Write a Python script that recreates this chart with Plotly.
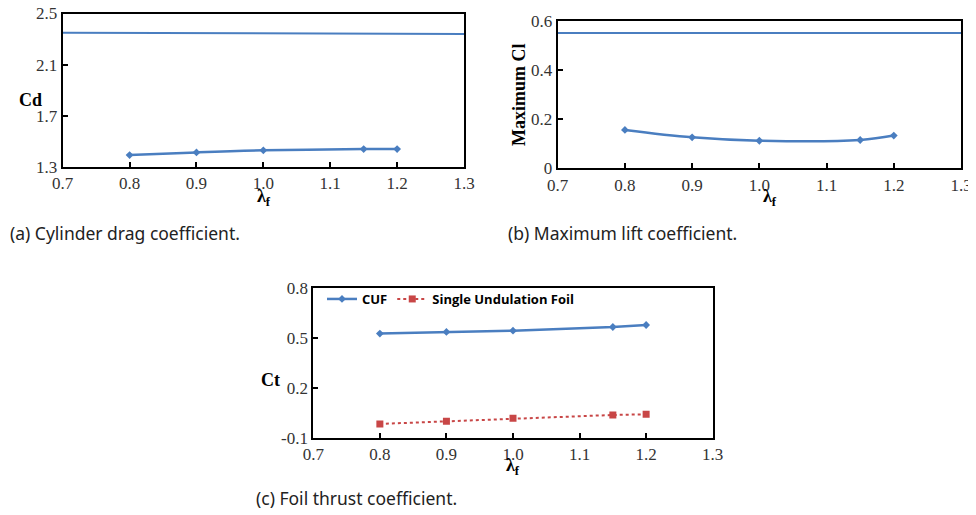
import plotly.graph_objects as go

# ---------------- data ----------------
lam = [0.8, 0.9, 1.0, 1.15, 1.2]
ref_x = [0.7, 1.3]

cd_ref = [2.35, 2.34]
cd_cuf = [1.391, 1.412, 1.428, 1.438, 1.438]

cl_ref = [0.55, 0.55]
cl_cuf = [0.156, 0.126, 0.112, 0.115, 0.133]

ct_cuf = [0.527, 0.537, 0.545, 0.567, 0.579]
ct_single = [-0.017, -0.001, 0.017, 0.037, 0.041]

x_ticks = [0.7, 0.8, 0.9, 1.0, 1.1, 1.2, 1.3]
x_ticklabels = ["0.7", "0.8", "0.9", "1.0", "1.1", "1.2", "1.3"]
cd_ticks = [1.3, 1.7, 2.1, 2.5]
cl_ticks = [0, 0.2, 0.4, 0.6]
cl_ticklabels = ["0", "0.2", "0.4", "0.6"]
ct_ticks = [-0.1, 0.2, 0.5, 0.8]

BLUE = "#4a7ec0"
RED = "#c84646"

# page has an 8px body margin: size the figure so it fits the window
OFF = 8
W, H = 976 - OFF, 515 - OFF


def px(x):
    return (x - OFF) / W


def py(y):
    return 1 - (y - OFF) / H


fig = go.Figure()

# panel (a)
fig.add_trace(go.Scatter(x=ref_x, y=cd_ref, mode="lines", line=dict(color=BLUE, width=2),
                         showlegend=False, xaxis="x", yaxis="y"))
fig.add_trace(go.Scatter(x=lam, y=cd_cuf, mode="lines+markers", line=dict(color=BLUE, width=2.5, shape="spline"),
                         marker=dict(symbol="diamond", size=6, color=BLUE),
                         showlegend=False, xaxis="x", yaxis="y"))
# panel (b)
fig.add_trace(go.Scatter(x=ref_x, y=cl_ref, mode="lines", line=dict(color=BLUE, width=2),
                         showlegend=False, xaxis="x2", yaxis="y2"))
fig.add_trace(go.Scatter(x=lam, y=cl_cuf, mode="lines+markers", line=dict(color=BLUE, width=2.5, shape="spline"),
                         marker=dict(symbol="diamond", size=6, color=BLUE),
                         showlegend=False, xaxis="x2", yaxis="y2"))
# panel (c)
fig.add_trace(go.Scatter(x=lam, y=ct_cuf, mode="lines+markers", name="<b>CUF</b>",
                         line=dict(color=BLUE, width=2.5),
                         marker=dict(symbol="diamond", size=6, color=BLUE),
                         xaxis="x3", yaxis="y3"))
fig.add_trace(go.Scatter(x=lam, y=ct_single, mode="lines+markers", name="<b>Single Undulation Foil</b>",
                         line=dict(color=RED, width=2, dash="dot"),
                         marker=dict(symbol="square", size=7, color=RED),
                         xaxis="x3", yaxis="y3"))

tickfont = dict(family="Liberation Serif, Times New Roman, serif", size=17, color="#333")
common_axis = dict(showline=True, linecolor="black", linewidth=2, mirror=True, showgrid=False,
                   zeroline=False, ticks="inside", ticklen=5, tickcolor="black", tickwidth=1.5,
                   tickfont=tickfont, automargin=False, ticklabeloverflow="allow")

xcommon = dict(common_axis, range=[0.7, 1.3], tickvals=x_ticks, ticktext=x_ticklabels)

fig.update_layout(
    width=W, height=H,
    margin=dict(l=0, r=0, t=0, b=0),
    paper_bgcolor="white", plot_bgcolor="white",
    xaxis=dict(xcommon, domain=[px(62.7), px(464)], anchor="y"),
    yaxis=dict(common_axis, domain=[py(166.7), py(13.5)], range=[1.3, 2.5], tickvals=cd_ticks,
               ticktext=["1.3", "1.7", "2.1", "2.5"], anchor="x"),
    xaxis2=dict(xcommon, domain=[px(557.7), px(961)], anchor="y2"),
    yaxis2=dict(common_axis, domain=[py(168.3), py(20.7)], range=[0, 0.6], tickvals=cl_ticks,
                ticktext=cl_ticklabels, anchor="x2"),
    xaxis3=dict(xcommon, domain=[px(313.3), px(712.7)], anchor="y3"),
    yaxis3=dict(common_axis, domain=[py(437.7), py(288.3)], range=[-0.1, 0.8], tickvals=ct_ticks,
                ticktext=["-0.1", "0.2", "0.5", "0.8"], anchor="x3"),
    legend=dict(x=px(322), y=py(284), xanchor="left", yanchor="top", orientation="h",
                bgcolor="rgba(0,0,0,0)",
                font=dict(family="Open Sans, Noto Sans, sans-serif", size=13, color="black"),
                itemwidth=30, tracegroupgap=0),
)

serif_bold = dict(family="Liberation Serif, Times New Roman, serif", size=18, color="black")
cap_font = dict(family="Noto Sans, DejaVu Sans, sans-serif", size=17.5, color="#222")

ann = [
    dict(text="<b>Cd</b>", x=px(30), y=py(100), font=serif_bold),
    dict(text="<b>λ<sub>f</sub></b>", x=px(264), y=py(197), font=serif_bold),
    dict(text="<b>Maximum Cl</b>", x=px(519), y=py(95), font=serif_bold, textangle=-90),
    dict(text="<b>λ<sub>f</sub></b>", x=px(770), y=py(197), font=serif_bold),
    dict(text="<b>Ct</b>", x=px(270), y=py(380), font=serif_bold),
    dict(text="<b>λ<sub>f</sub></b>", x=px(513), y=py(466), font=serif_bold),
    dict(text="(a) Cylinder drag coefficient.", x=px(8), y=py(233), xanchor="left", font=cap_font),
    dict(text="(b) Maximum lift coefficient.", x=px(506), y=py(233), xanchor="left", font=cap_font),
    dict(text="(c) Foil thrust coefficient.", x=px(254), y=py(498), xanchor="left", font=cap_font),
]
for a in ann:
    a.setdefault("xanchor", "center")
    a.update(xref="paper", yref="paper", yanchor="middle", showarrow=False)
fig.update_layout(annotations=ann)

fig.write_html("out.html")
